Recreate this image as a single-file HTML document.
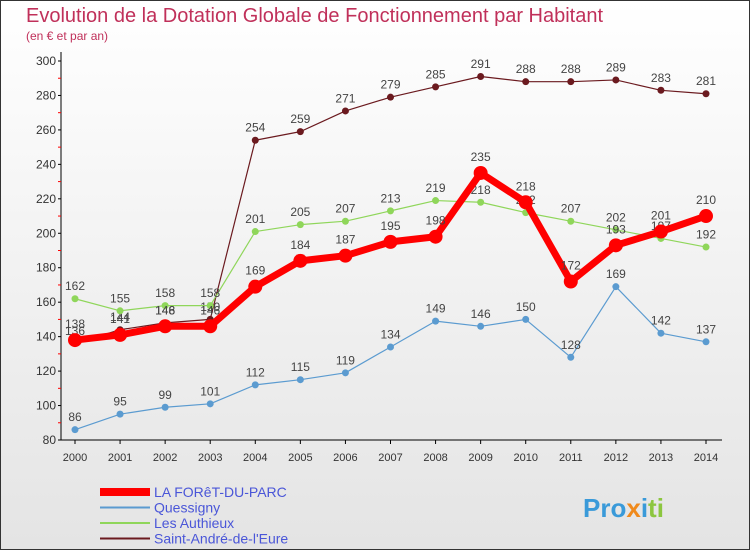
<!DOCTYPE html>
<html><head><meta charset="utf-8"><style>
body{margin:0}
#wrap{width:750px;height:550px;position:relative;background:linear-gradient(#ffffff,#e4e4e4);box-sizing:border-box;border:1px solid #333;overflow:hidden;font-family:"Liberation Sans",sans-serif}
svg text{font-family:"Liberation Sans",sans-serif}
</style></head><body>
<div id="wrap">
<svg id="c" width="750" height="550" style="position:absolute;left:-1px;top:-1px">
<text x="26" y="22" font-size="20" fill="#c0305a">Evolution de la Dotation Globale de Fonctionnement par Habitant</text>
<text x="26" y="40" font-size="12" fill="#c0305a">(en € et par an)</text>
</svg>
</div>
<script>
const years=[2000,2001,2002,2003,2004,2005,2006,2007,2008,2009,2010,2011,2012,2013,2014];
const yTicks=[80,100,120,140,160,180,200,220,240,260,280,300];
const foret=[138,141,146,146,169,184,187,195,198,235,218,172,193,201,210];
const quessigny=[86,95,99,101,112,115,119,134,149,146,150,128,169,142,137];
const authieux=[162,155,158,158,201,205,207,213,219,218,212,207,202,197,192];
const standre=[136,144,148,150,254,259,271,279,285,291,288,288,289,283,281];
const series=[
 {name:"Saint-André-de-l'Eure",v:standre,c:"#6b1a1f",w:1.2,r:3.5,key:'series-saint-andre'},
 {name:"Les Authieux",v:authieux,c:"#8fd65a",w:1.2,r:3.5,key:'series-les-authieux'},
 {name:"Quessigny",v:quessigny,c:"#5b9bd0",w:1.2,r:3.5,key:'series-quessigny'},
 {name:"LA FORêT-DU-PARC",v:foret,c:"#ff0000",w:7,r:7,key:'series-la-foret'}];
const legendOrder=[3,2,1,0];
const X=i=>75+i*(706-75)/14, Y=v=>440-(v-80)*(440-61)/220;
const svg=document.getElementById('c'),NS="http://www.w3.org/2000/svg";
function mk(t,a,p){const e=document.createElementNS(NS,t);for(const k in a)e.setAttribute(k,a[k]);(p||svg).appendChild(e);return e;}
let ax=mk('line',{x1:61,y1:52,x2:61,y2:440,stroke:'#000'});


let bx=mk('line',{x1:61,y1:440,x2:722,y2:440,stroke:'#000'});


yTicks.forEach(t=>{
 mk('line',{x1:58,x2:61,y1:Y(t),y2:Y(t),stroke:'#000'});
 if(t<300)mk('line',{x1:58,x2:61,y1:Y(t+10),y2:Y(t+10),stroke:'#f00'});
 const l=mk('text',{x:56,y:Y(t)+4,'font-size':12,fill:'#333','text-anchor':'end'});l.textContent=t;
 
 
});
years.forEach((y,i)=>{
 mk('line',{x1:X(i),x2:X(i),y1:440,y2:444,stroke:'#000'});
 const l=mk('text',{x:X(i),y:461,'font-size':11,fill:'#333','text-anchor':'middle'});l.textContent=y;
 
 
});
series.forEach(s=>{
 const g=mk('g',{});
 
 
 const p=mk('polyline',{points:s.v.map((v,i)=>X(i)+','+Y(v)).join(' '),fill:'none',stroke:s.c,'stroke-width':s.w,'stroke-linejoin':'round'},g);
 
 s.v.forEach((v,i)=>{
  const c=mk('circle',{cx:X(i),cy:Y(v),r:s.r,fill:s.c},g);
  
  
  const t=mk('text',{x:X(i),y:Y(v)-(s.r+5),'font-size':12,fill:'#444','text-anchor':'middle'},g);t.textContent=v;
  
  
 });
});
legendOrder.forEach((si,k)=>{
 const s=series[si],y=492+k*15.5;
 const g=mk('g',{});
 
 
 mk('line',{x1:100,x2:150,y1:y,y2:y,stroke:s.c,'stroke-width':si==3?8:2},g);
 const t=mk('text',{x:154,y:y+5,'font-size':14,fill:'#4a56d8'},g);t.textContent=s.name;
});
const lg=mk('text',{x:583,y:517,'font-size':26,'font-weight':'bold',fill:'#f08a1c'});


lg.innerHTML='<tspan fill="#3a9ad9">Pro</tspan><tspan fill="#f08a1c">x</tspan><tspan fill="#3a9ad9">i</tspan><tspan fill="#8cc63f">ti</tspan>';
</script>
</body></html>
